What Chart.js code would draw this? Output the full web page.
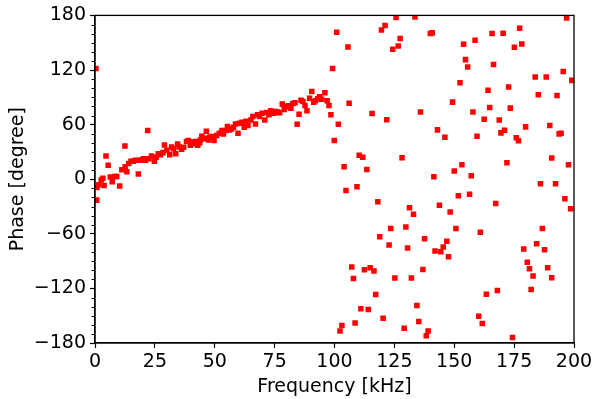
<!DOCTYPE html>
<html>
<head>
<meta charset="utf-8">
<script src="https://cdn.jsdelivr.net/npm/chart.js@4.4.1/dist/chart.umd.min.js"></script>
<style>
  html, body { margin: 0; padding: 0; background: #fff; }
</style>
</head>
<body>
<canvas id="phaseChart" width="598" height="399"></canvas>
<script>
const freqKHz = [
  0.4, 0.7, 0.8, 1.6, 2.6, 3.3, 3.8, 4.6, 5.5, 6.4, 7.2, 8.2, 9.1, 10.3, 11.2, 12.5, 12.6, 13.3, 14.1, 15.0,
  16.1, 16.9, 18.1, 18.9, 19.6, 20.3, 21.1, 22.0, 22.5, 23.6, 24.8, 25.6, 26.4, 27.3, 28.4, 29.0, 30.0, 31.2, 32.0, 32.8,
  33.7, 34.5, 35.1, 36.2, 37.0, 38.2, 39.0, 39.8, 40.4, 41.2, 42.0, 42.9, 43.7, 44.0, 44.6, 45.4, 46.2, 46.5, 47.4, 47.9,
  48.6, 49.7, 50.8, 51.9, 53.0, 53.6, 54.5, 55.3, 56.1, 57.0, 57.8, 58.7, 59.7, 60.3, 61.4, 62.3, 63.1, 63.9, 65.1, 65.9,
  67.0, 67.9, 68.7, 69.8, 70.9, 71.8, 72.6, 73.4, 74.6, 75.4, 76.2, 77.1, 78.2, 79.0, 79.8, 80.7, 81.8, 82.6, 83.5, 84.4,
  85.2, 86.0, 86.8, 87.7, 88.5, 89.6, 90.5, 91.3, 92.1, 93.0, 93.8, 94.6, 96.0, 96.9, 97.7, 98.5, 99.2, 99.9, 100.9, 101.6,
  102.3, 103.1, 104.0, 104.8, 105.6, 106.1, 107.2, 107.9, 108.6, 109.4, 110.3, 111.0, 111.8, 112.5, 113.5, 114.1, 114.9, 115.7, 116.5, 117.2,
  118.1, 118.9, 119.6, 120.3, 121.1, 121.8, 122.8, 123.5, 124.3, 125.2, 125.7, 126.6, 127.4, 128.2, 129.1, 129.8, 130.5, 131.3, 132.1, 133.0,
  133.6, 134.4, 135.2, 135.9, 136.9, 137.6, 138.3, 139.1, 140.0, 140.8, 141.5, 142.0, 143.0, 143.8, 144.4, 145.4, 146.1, 146.9, 147.6, 148.3,
  149.3, 150.0, 150.7, 151.7, 152.4, 153.2, 153.9, 154.7, 155.6, 156.4, 157.1, 157.8, 158.7, 159.5, 160.2, 160.9, 161.7, 162.5, 163.4, 164.1,
  164.8, 165.8, 166.4, 167.3, 168.0, 168.8, 169.5, 170.4, 171.0, 172.0, 172.7, 173.4, 174.3, 175.1, 175.9, 176.8, 177.3, 178.2, 179.0, 179.8,
  180.5, 181.4, 182.1, 182.9, 183.8, 184.4, 185.1, 186.0, 186.8, 187.7, 188.4, 189.0, 189.9, 190.7, 190.7, 192.3, 192.9, 193.8, 194.6, 195.5,
  196.2, 196.9, 197.7, 198.6, 199.1
];
const phaseDeg = [
  121.7, -23, -9, -6, -1, 1, -7, 25.5, 15.4, 2.5, -2.7, 3, 3, -7.4, 10.5, 36.4, 13.6, 8.2, 17.2, 19.8,
  19.8, 20.9, 5.7, 20.9, 21.5, 22.6, 20.9, 53.5, 22.6, 25.6, 19.8, 24.2, 28, 27, 29.2, 37.5, 31.8, 27, 35.4, 33.5,
  28, 38.6, 35.4, 32.8, 35, 41.5, 42.6, 37.2, 40.8, 39, 41.5, 37.2, 40, 43, 47.3, 44.4, 45, 52.8, 43, 46,
  47, 42.6, 48, 50.6, 53.5, 49.8, 53.5, 57.9, 54.2, 55.3, 57.1, 60.7, 50.6, 61.5, 62.6, 57.1, 63.7, 59, 65.1, 68.8,
  60.7, 70.9, 68.8, 72.4, 65.1, 73.4, 70.9, 75.3, 72.4, 74.5, 73.8, 73.1, 82.5, 76.7, 79.7, 80.7, 78.1, 83.2, 84, 60.5,
  71.5, 86.8, 85.4, 81.1, 75.3, 89, 96.3, 84.7, 86.2, 88.4, 90.5, 87.9, 94.9, 86.2, 81.1, 70.9, 121.7, 42.4, 161.6, 60.4,
  -166.7, -160.8, 13.6, -12.5, 145.3, 83.4, -96.6, -109, -158, -8.3, 26.3, -142.3, 24.2, -99.6, 10.7, -143.1, -97.4, 72.2, -101, -126.8,
  -24.8, -63.3, 164, -152.9, 168.9, 65.3, -72.4, -54.2, 142.8, -108.6, 177.6, 146.4, 154.7, 23.7, -163.8, -52.4, -75.6, -31.4, -108.6, -38.6,
  178.3, -138.7, -156.5, 73.8, -99.2, -65.5, -172.1, -166.7, 160.2, 160.8, 2.8, -78.9, 54.2, -28.5, -79.7, -74.5, 46.2, -68.3, -85.1, -36,
  84.7, 8.9, -54.2, -18.3, 106.1, 15.8, 148.2, 131.4, 123.2, -16.5, 3.8, 73.8, 152.6, 47.3, -150.7, -58.2, -158.6, 65.8, -126.4, 97.7,
  78.9, 160.2, 126, -26.7, -122.4, 65.1, 50.9, 160.5, 53.9, 18, 101.4, 78.1, -173.9, 144.9, 45.5, 42.2, 165.9, 148.5, -76.7, 57.5,
  -91.2, -98.5, -121.3, -106.4, 112.3, -70.9, 92.7, -4.9, -54.2, -77.5, 112.3, -97.4, 59, 23.4, -108.3, -4.9, 91.9, 49.8, 50.6, 118.4,
  -21.5, 177.2, 15.8, -32.4, 108.6
];

const xTicks = [0, 25, 50, 75, 100, 125, 150, 175, 200];
const yTicks = [-180, -120, -60, 0, 60, 120, 180];
const yMinorStep = 10;

const fmt = v => (v < 0 ? '\u2212' + Math.abs(v) : String(v));

// matplotlib-like frame on all four sides plus small minor ticks on the y axis
const framePlugin = {
  id: 'frame',
  afterDraw(chart) {
    const { ctx, chartArea: a, scales } = chart;
    ctx.save();
    ctx.strokeStyle = '#000';
    ctx.lineWidth = 1.3;
    ctx.strokeRect(a.left, a.top, a.right - a.left, a.bottom - a.top);
    ctx.lineWidth = 1;
    const y = scales.y;
    for (let v = y.min; v <= y.max; v += yMinorStep) {
      if (yTicks.includes(v)) continue;
      const py = Math.round(y.getPixelForValue(v)) + 0.5;
      ctx.beginPath();
      ctx.moveTo(a.left - 3.5, py);
      ctx.lineTo(a.left, py);
      ctx.stroke();
    }
    ctx.restore();
  }
};

Chart.defaults.font.family = "'DejaVu Sans', sans-serif";
Chart.defaults.color = '#000';

new Chart(document.getElementById('phaseChart'), {
  type: 'scatter',
  data: {
    datasets: [{
      data: freqKHz.map((f, i) => ({ x: f, y: phaseDeg[i] })),
      pointStyle: 'rect',
      pointRadius: 3.9,
      pointHoverRadius: 3.9,
      backgroundColor: '#ff0000',
      borderWidth: 0
    }]
  },
  options: {
    responsive: false,
    animation: false,
    events: [],
    layout: { padding: { top: 12, right: 24, left: 0, bottom: 0 } },
    plugins: { legend: { display: false }, tooltip: { enabled: false } },
    scales: {
      x: {
        type: 'linear',
        min: 0, max: 200,
        afterBuildTicks: s => { s.ticks = xTicks.map(v => ({ value: v })); },
        afterFit: s => { s.height = 56; },
        grid: { drawOnChartArea: false, tickLength: 5, tickWidth: 1.2, tickColor: '#000' },
        border: { color: '#000', width: 1.3 },
        ticks: { font: { size: 19 }, padding: 3, maxRotation: 0, callback: fmt },
        title: { display: true, text: 'Frequency [kHz]', font: { size: 19 }, padding: { top: 0, bottom: 1 } }
      },
      y: {
        type: 'linear',
        min: -180, max: 180,
        afterBuildTicks: s => { s.ticks = yTicks.map(v => ({ value: v })); },
        afterFit: s => { s.width = 95; },
        grid: { drawOnChartArea: false, tickLength: 5, tickWidth: 1.2, tickColor: '#000' },
        border: { color: '#000', width: 1.3 },
        ticks: { font: { size: 19 }, padding: 4, callback: fmt },
        title: { display: true, text: 'Phase [degree]', font: { size: 19 }, padding: { top: 7, bottom: 0 } }
      }
    }
  },
  plugins: [framePlugin]
});
</script>
</body>
</html>
